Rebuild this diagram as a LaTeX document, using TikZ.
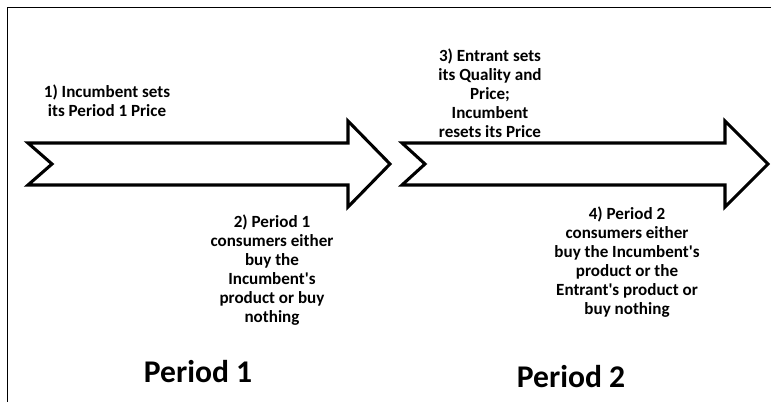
\documentclass[tikz,border=0pt]{standalone}
\usepackage{fontspec}
\setmainfont{Carlito}
\tikzset{
  bigarrow/.style={draw=black,line width=2.3pt,fill=white,line join=miter},
  stagetext/.style={align=center,font=\fontsize{12.8}{14.3}\selectfont\bfseries,inner sep=0pt},
  periodtext/.style={font=\fontsize{23.7}{28}\selectfont\bfseries,inner sep=0pt}
}
\newcommand{\q}{\textquotesingle}
\begin{document}
\begin{tikzpicture}[x=0.75pt,y=-0.75pt]
\useasboundingbox (0,0) rectangle (771,402);
\draw[line width=1.2pt] (7.5,410) -- (7.5,7.5) -- (780,7.5);
% the two period arrows
\draw[bigarrow] (28,143) -- (348,143) -- (348,121) -- (390,164) -- (348,207) -- (348,185) -- (28,185) -- (52,164) -- cycle;
\draw[bigarrow] (402,143) -- (725,143) -- (725,121) -- (768,164) -- (725,207) -- (725,185) -- (402,185) -- (425,164) -- cycle;
% stages
\node[stagetext] (s1) at (107,101) {1) Incumbent sets\\its Period 1 Price};
\node[stagetext] (s2) at (272,270) {2) Period 1\\consumers either\\buy the\\Incumbent\q s\\product or buy\\nothing};
\node[stagetext] (s3) at (490,93) {3) Entrant sets\\its Quality and\\Price;\\Incumbent\\resets its Price};
\node[stagetext] (s4) at (627,262) {4) Period 2\\consumers either\\buy the Incumbent\q s\\product or the\\Entrant\q s product or\\buy nothing};
% period labels
\node[periodtext] (p1) at (198,372) {Period 1};
\node[periodtext] (p2) at (571,377) {Period 2};
\end{tikzpicture}
\end{document}
